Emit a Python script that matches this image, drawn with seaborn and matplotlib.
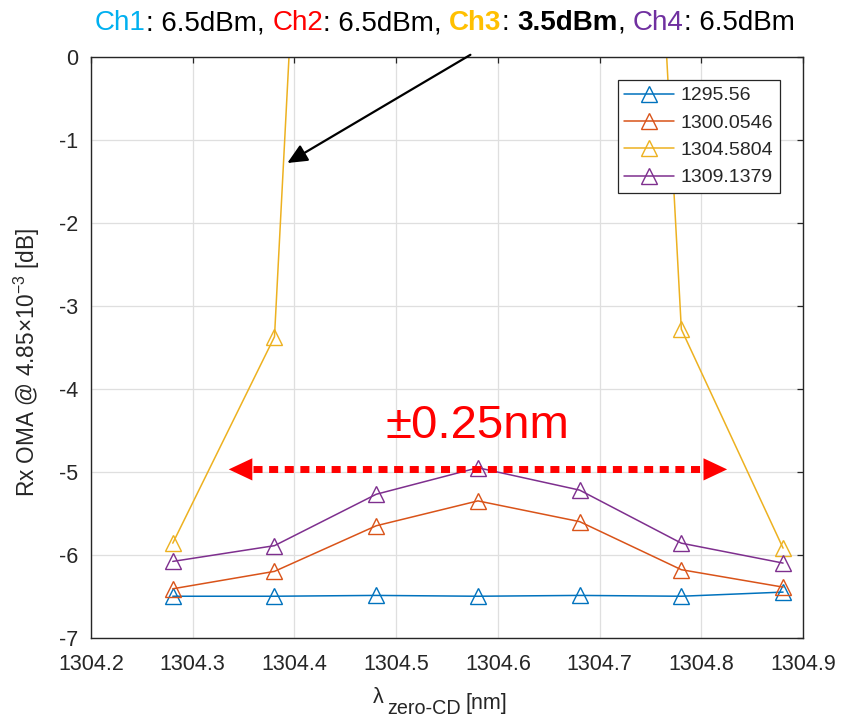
import matplotlib
matplotlib.use('Agg')
import matplotlib.pyplot as plt
import numpy as np
import pandas as pd
import seaborn as sns

# ---------------- data ----------------
wavelength = [1304.2804, 1304.3804, 1304.4804, 1304.5804, 1304.6804, 1304.7804, 1304.8804]
channels = ['1295.56', '1300.0546', '1304.5804', '1309.1379']
ch1 = [-6.50, -6.50, -6.49, -6.50, -6.49, -6.50, -6.45]
ch2 = [-6.41, -6.20, -5.65, -5.35, -5.60, -6.18, -6.39]
ch3 = [-5.86, -3.37, 20.3, 25.0, 19.5, -3.28, -5.92]
ch4 = [-6.08, -5.89, -5.27, -4.95, -5.22, -5.86, -6.10]
series = [ch1, ch2, ch3, ch4]
colors = ['#0072BD', '#D95319', '#EDB120', '#7E2F8E']
xticks = [1304.2, 1304.3, 1304.4, 1304.5, 1304.6, 1304.7, 1304.8, 1304.9]
yticks = [-7, -6, -5, -4, -3, -2, -1, 0]
center_wl = 1304.5804
half_range = 0.245
range_y = -4.97
range_label = '±0.25nm'
title_parts = [('Ch1', '#00B0F0', 'normal'), (': 6.5dBm, ', '#000000', 'normal'),
               ('Ch2', '#FF0000', 'normal'), (': 6.5dBm, ', '#000000', 'normal'),
               ('Ch3', '#FFC000', 'bold'), (': ', '#000000', 'normal'),
               ('3.5dBm', '#000000', 'bold'), (', ', '#000000', 'normal'),
               ('Ch4', '#7030A0', 'normal'), (': 6.5dBm', '#000000', 'normal')]

df = pd.DataFrame({
    'wl': wavelength * len(channels),
    'oma': sum(series, []),
    'ch': np.repeat(channels, len(wavelength)),
})

# ---------------- style ----------------
sns.set_style('white')
plt.rcParams['font.family'] = ['Liberation Sans', 'DejaVu Sans']
plt.rcParams['mathtext.fontset'] = 'custom'
plt.rcParams['mathtext.rm'] = 'Liberation Sans'
plt.rcParams['mathtext.it'] = 'Liberation Sans:italic'
plt.rcParams['mathtext.bf'] = 'Liberation Sans:bold'
plt.rcParams['axes.unicode_minus'] = False

W, H = 841, 719
fig = plt.figure(figsize=(W / 100, H / 100), dpi=100)
ax = fig.add_axes([91/W, 1-637.7/H, (803-91)/W, (637.7-57.3)/H])

for name, col in zip(channels, colors):
    sub = df[df['ch'] == name]
    sns.lineplot(data=sub, x='wl', y='oma', ax=ax, color=col, marker='^',
                 markersize=11, markerfacecolor='none', markeredgecolor=col,
                 markeredgewidth=1.0, linewidth=1.1, label=name, sort=False)

ax.set_xlim(1304.2, 1304.9)
ax.set_ylim(-7, 0)
ax.set_xticks(xticks)
ax.set_yticks(yticks)
ax.set_xticklabels([f'{t:.1f}' for t in xticks])
ax.set_yticklabels([str(t) for t in yticks])
ax.grid(True, color='#DFDFDF', linewidth=0.9)
ax.set_axisbelow(True)
for s in ax.spines.values():
    s.set_color('#262626')
    s.set_linewidth(1.0)
ax.tick_params(direction='in', length=4, width=0.9, colors='#262626',
               labelsize=15.5, top=True, right=True)
ax.tick_params(axis='x', pad=12)
ax.tick_params(axis='y', pad=9)

ax.set_xlabel('')
ax.set_ylabel('Rx OMA @ 4.85$\\times$10$^{-3}$ [dB]', fontsize=16.3, color='#262626')
ax.yaxis.set_label_coords(-(91 - 42) / (803 - 91), (637.7 - 362) / (637.7 - 57.3))

# x label built from pieces (large subscript as in the reference)
lab_col = '#262626'
fig.text(373/W, 1-703/H, 'λ', fontsize=15.5, color=lab_col, ha='left', va='baseline')
fig.text(387/W, 1-714/H, 'zero-CD', fontsize=14.2, color=lab_col, ha='left', va='baseline')
fig.text(466/W, 1-709/H, '[nm]', fontsize=15.5, color=lab_col, ha='left', va='baseline')

leg = ax.legend(loc='upper right', bbox_to_anchor=(0.968, 0.961), borderaxespad=0,
                fontsize=14, frameon=True, fancybox=False, framealpha=1,
                edgecolor='#262626', handlelength=2.55, handletextpad=0.35,
                labelspacing=0.5, borderpad=0.35)
leg.get_frame().set_linewidth(0.9)
for t in leg.get_texts():
    t.set_color('#262626')

# ---------------- annotations ----------------
head_len = 0.0236
ax.plot([center_wl - half_range + head_len, center_wl + half_range - head_len],
        [range_y, range_y], color='#FF0000', lw=5, ls=(0, (1.3, 0.95)),
        dash_capstyle='butt', zorder=5)
for tip, back in [(center_wl - half_range, center_wl - half_range + head_len),
                  (center_wl + half_range, center_wl + half_range - head_len)]:
    ax.annotate('', xy=(tip, range_y), xytext=(back, range_y),
                arrowprops=dict(arrowstyle='-|>,head_length=17,head_width=8',
                                mutation_scale=1, color='#FF0000', lw=0,
                                shrinkA=0, shrinkB=0), zorder=6)
ax.text(center_wl, -4.59, range_label, color='#FF0000', fontsize=34,
        ha='center', va='baseline', zorder=6)

ax.annotate('', xy=(1304.393, -1.275), xytext=(1304.573, 0.03),
            arrowprops=dict(arrowstyle='-|>,head_length=1.2,head_width=0.55',
                            mutation_scale=10, color='black', lw=1.6,
                            shrinkA=0, shrinkB=0),
            annotation_clip=False, zorder=7)

# multicolour title
prev = fig.text(95/W, 1-30/H, title_parts[0][0], color=title_parts[0][1],
                fontweight=title_parts[0][2], fontsize=20, ha='left', va='baseline')
for txt, col, w in title_parts[1:]:
    prev = ax.annotate(txt, xy=(1, 0), xycoords=prev, color=col, fontweight=w,
                       fontsize=20, ha='left', va='bottom', annotation_clip=False)

fig.savefig('out.png', dpi=100)
